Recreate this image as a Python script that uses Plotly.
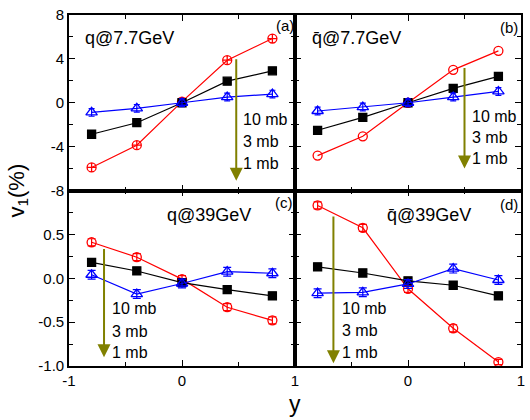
import plotly.graph_objects as go
from plotly.subplots import make_subplots

rapidity = [-0.8, -0.4, 0.0, 0.4, 0.8]

# panel (a): q @ 7.7 GeV
a_10mb = [-5.9, -3.87, 0.1, 3.88, 5.85]
a_3mb = [-2.87, -1.82, 0.0, 1.97, 2.91]
a_1mb = [-0.88, -0.51, 0.0, 0.52, 0.79]
# panel (b): anti-q @ 7.7 GeV
b_10mb = [-4.82, -3.06, 0.0, 3.0, 4.73]
b_3mb = [-2.51, -1.33, 0.0, 1.31, 2.4]
b_1mb = [-0.75, -0.39, 0.0, 0.52, 1.03]
# panel (c): q @ 39 GeV
c_10mb = [0.41, 0.24, -0.01, -0.33, -0.48]
c_3mb = [0.18, 0.083, -0.05, -0.13, -0.2]
c_1mb = [0.04, -0.18, -0.06, 0.075, 0.057]
c_err_10 = [0.04, 0.04, 0.04, 0.04, 0.04]
c_err_3 = [0.04, 0.04, 0.04, 0.04, 0.04]
c_err_1 = [0.05, 0.05, 0.05, 0.05, 0.05]
# panel (d): anti-q @ 39 GeV
d_10mb = [0.83, 0.575, -0.12, -0.57, -0.955]
d_3mb = [0.13, 0.06, -0.03, -0.08, -0.2]
d_1mb = [-0.17, -0.16, -0.065, 0.11, -0.02]
d_err_10 = [0.04, 0.04, 0.04, 0.04, 0.03]
d_err_3 = [0.04, 0.04, 0.04, 0.04, 0.04]
d_err_1 = [0.05, 0.05, 0.05, 0.05, 0.05]

top_err_1 = [0.35, 0.35, 0.35, 0.35, 0.35]

panel_labels = ["(a)", "(b)", "(c)", "(d)"]
panel_titles = ["q@7.7GeV", "q\u0304@7.7GeV", "q@39GeV", "q\u0304@39GeV"]
cross_labels = ["10 mb", "3 mb", "1 mb"]

FONT = "Liberation Sans, Arial, sans-serif"
RED, BLACK, BLUE, OLIVE = "#ff0000", "#000000", "#0000ff", "#808000"

fig = make_subplots(rows=2, cols=2, horizontal_spacing=0, vertical_spacing=0)


def add(row, col, y, color, symbol, size, err=None, ew=4):
    fig.add_trace(go.Scatter(
        x=rapidity, y=y, mode="lines+markers",
        line=dict(color=color, width=1.2),
        marker=dict(symbol=symbol, size=size, color=color,
                    line=dict(color=color, width=1.3)),
        error_y=(dict(type="data", array=err, color=color, thickness=1.2, width=ew, visible=True)
                 if err is not None else None),
        showlegend=False), row=row, col=col)


add(1, 1, a_10mb, RED, "circle-cross-open", 9)
add(1, 1, a_3mb, BLACK, "square", 8)
add(1, 1, a_1mb, BLUE, "triangle-up-open", 10, top_err_1, 3)
add(1, 2, b_10mb, RED, "circle-open", 9)
add(1, 2, b_3mb, BLACK, "square", 8)
add(1, 2, b_1mb, BLUE, "triangle-up-open", 10, top_err_1, 3)
add(2, 1, c_10mb, RED, "circle-open", 9, c_err_10)
add(2, 1, c_3mb, BLACK, "square", 8, c_err_3)
add(2, 1, c_1mb, BLUE, "triangle-up-open", 10, c_err_1)
add(2, 2, d_10mb, RED, "circle-open", 9, d_err_10)
add(2, 2, d_3mb, BLACK, "square", 8, d_err_3)
add(2, 2, d_1mb, BLUE, "triangle-up-open", 10, d_err_1)

axcommon = dict(showline=True, linecolor="black", linewidth=1.6, mirror="allticks",
                ticks="inside", ticklen=6, tickwidth=1.3, tickcolor="black",
                showgrid=False, zeroline=False,
                tickfont=dict(family=FONT, size=15, color="black"))
minor = dict(ticks="inside", ticklen=4, tickwidth=1.2, tickcolor="black", showgrid=False)

for r in (1, 2):
    for c in (1, 2):
        fig.update_xaxes(range=[-1, 1], **axcommon, row=r, col=c,
                         minor=dict(dtick=0.5, **minor))
for c in (1, 2):
    fig.update_yaxes(range=[-8, 8], **axcommon, row=1, col=c,
                     minor=dict(dtick=2, **minor))
    fig.update_yaxes(range=[-1, 1], **axcommon, row=2, col=c,
                     minor=dict(dtick=0.25, **minor))

fig.update_xaxes(showticklabels=False, tickvals=[-1, 0, 1], row=1)
fig.update_xaxes(tickvals=[-1, 0, 1], ticktext=["-1", "0", "1"], row=2, col=1)
fig.update_xaxes(tickvals=[-1, 0, 1], ticktext=["", "0", "1"], row=2, col=2)
fig.update_yaxes(tickvals=[-8, -4, 0, 4, 8], ticktext=["-8", "-4", "0", "4", "8"], row=1, col=1)
fig.update_yaxes(tickvals=[-1, -0.5, 0, 0.5, 1], ticktext=["-1.0", "-0.5", "0.0", "0.5", ""], row=2, col=1)
fig.update_yaxes(tickvals=[-8, -4, 0, 4, 8], showticklabels=False, row=1, col=2)
fig.update_yaxes(tickvals=[-1, -0.5, 0, 0.5, 1], showticklabels=False, row=2, col=2)

refs = [("x", "y"), ("x2", "y2"), ("x3", "y3"), ("x4", "y4")]
# arrow (x, ytop, ybottom), text x, text ys, title pos, label pos
arrows = [(0.48, 4.1, -7.1), (0.5, 3.3, -6.0), (-0.69, 0.35, -0.9), (-0.66, 0.72, -0.97)]
text_x = [0.52, 0.55, -0.64, -0.6]
text_y = [[-1.5, -3.5, -5.5], [-1.27, -3.18, -5.1], [-0.35, -0.61, -0.85], [-0.34, -0.59, -0.845]]
title_pos = [(-0.88, 5.9), (-0.87, 5.9), (-0.15, 0.72), (-0.2, 0.72)]
label_pos = [(0.91, 7.05), (0.89, 6.9), (0.9, 0.86), (0.89, 0.84)]

ann = []
for i, (xr, yr) in enumerate(refs):
    ax_, yt, yb = arrows[i]
    ann.append(dict(x=ax_, y=yb, ax=ax_, ay=yt, xref=xr, yref=yr, axref=xr, ayref=yr,
                    showarrow=True, arrowhead=2, arrowsize=1.3, arrowwidth=2,
                    arrowcolor=OLIVE, text=""))
    for t, ty in zip(cross_labels, text_y[i]):
        ann.append(dict(x=text_x[i], y=ty, xref=xr, yref=yr, text=t, showarrow=False,
                        xanchor="left", yanchor="middle",
                        font=dict(family=FONT, size=16, color="black")))
    ann.append(dict(x=title_pos[i][0], y=title_pos[i][1], xref=xr, yref=yr,
                    text=panel_titles[i], showarrow=False, xanchor="left", yanchor="middle",
                    font=dict(family=FONT, size=18, color="black")))
    ann.append(dict(x=label_pos[i][0], y=label_pos[i][1], xref=xr, yref=yr,
                    text=panel_labels[i], showarrow=False, xanchor="center", yanchor="middle",
                    font=dict(family=FONT, size=15, color="black")))

ann.append(dict(x=-0.115, y=0.5, xref="paper", yref="paper", xanchor="center", yanchor="middle",
                text="v<sub>1</sub>(%)", textangle=-90, showarrow=False,
                font=dict(family=FONT, size=22, color="black")))
ann.append(dict(x=0.5, y=-0.108, xref="paper", yref="paper", xanchor="center", yanchor="middle",
                text="y", showarrow=False, font=dict(family=FONT, size=23, color="black")))

fig.update_layout(width=530, height=420, margin=dict(l=69, r=5, t=15, b=54),
                  paper_bgcolor="white", plot_bgcolor="white", annotations=ann,
                  font=dict(family=FONT, color="black"))

fig.write_html("out.html", config={"displayModeBar": False},
               post_script="document.body.style.margin='0';document.body.style.overflow='hidden';")
